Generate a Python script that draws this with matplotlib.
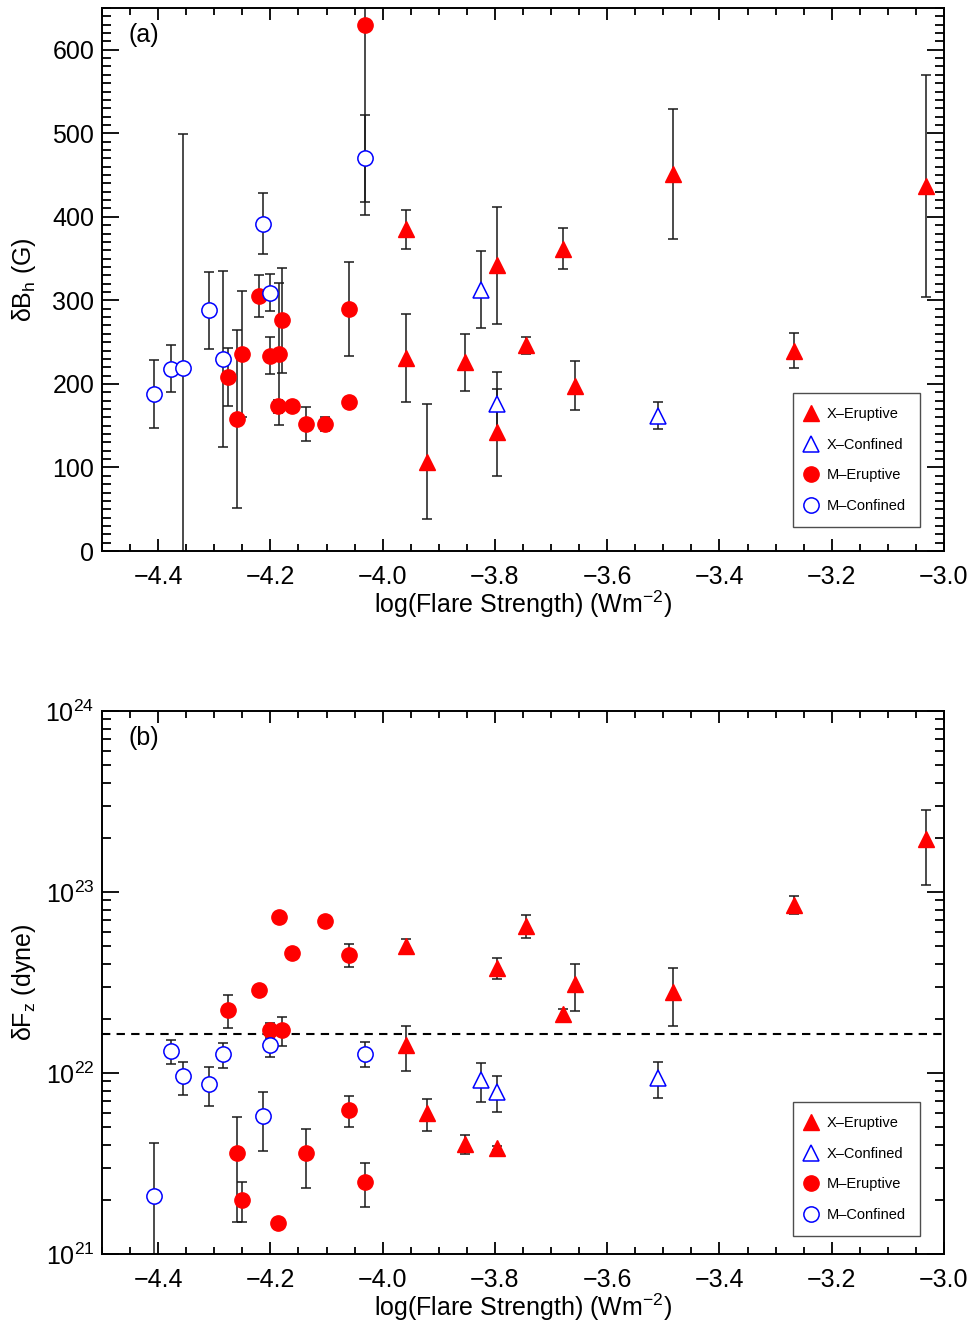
import matplotlib
matplotlib.use('Agg')
import matplotlib.pyplot as plt
from matplotlib.ticker import MultipleLocator, LogLocator, NullFormatter, FuncFormatter
from matplotlib.lines import Line2D
import numpy as np

plt.rcParams['font.family'] = ['Liberation Sans', 'DejaVu Sans']
plt.rcParams['mathtext.fontset'] = 'custom'
plt.rcParams['mathtext.rm'] = 'Liberation Sans'
plt.rcParams['mathtext.it'] = 'Liberation Sans:italic'
plt.rcParams['mathtext.bf'] = 'Liberation Sans:bold'

# ---------------- data ----------------
# X-class eruptive flares
xe_x = [-3.959, -3.959, -3.921, -3.854, -3.796, -3.796, -3.745, -3.678, -3.658, -3.482, -3.268, -3.032]
xe_bh = [385, 231, 107, 226, 342, 142, 246, 362, 198, 451, 240, 437]
xe_bh_err = [23, 53, 69, 34, 70, 52, 10, 25, 29, 78, 21, 133]
xe_fz = [5.06e22, 1.42e22, 5.99e21, 4.05e21, 3.82e22, 3.87e21, 6.52e22, 2.12e22, 3.1e22, 2.8e22, 8.5e22, 1.97e23]
xe_fz_err = [0.45e22, 0.4e22, 1.2e21, 0.5e21, 0.52e22, 0.1e21, 0.94e22, 0.14e22, 0.89e22, 0.98e22, 0.95e22, 0.87e23]

# X-class confined flares
xc_x = [-3.824, -3.796, -3.509]
xc_bh = [313, 176, 162]
xc_bh_err = [46, 38, 16]
xc_fz = [9.14e21, 7.87e21, 9.35e21]
xc_fz_err = [2.2e21, 1.8e21, 2.1e21]

# M-class eruptive flares
me_x = [-4.276, -4.260, -4.251, -4.221, -4.201, -4.186, -4.185, -4.180, -4.161, -4.136, -4.102, -4.060, -4.060, -4.031]
me_bh = [208, 158, 236, 305, 234, 173, 236, 276, 173, 152, 152, 290, 178, 630]
me_bh_err = [35, 106, 75, 25, 22, 8, 85, 63, 6, 20, 8, 56, 6, 228]
me_fz = [2.24e22, 3.61e21, 2.0e21, 2.86e22, 1.73e22, 1.49e21, 7.3e22, 1.73e22, 4.58e22, 3.61e21, 6.88e22, 4.5e22, 6.22e21, 2.51e21]
me_fz_err = [0.46e22, 2.1e21, 0.5e21, 0.15e22, 0.16e22, 0.05e21, 0.3e22, 0.32e22, 0.2e22, 1.3e21, 0.25e22, 0.67e22, 1.2e21, 0.69e21]

# M-class confined flares
mc_x = [-4.408, -4.377, -4.356, -4.310, -4.284, -4.214, -4.200, -4.031]
mc_bh = [188, 218, 219, 288, 230, 392, 309, 470]
mc_bh_err = [41, 28, 280, 46, 105, 37, 22, 52]
mc_fz = [2.09e21, 1.315e22, 9.57e21, 8.67e21, 1.27e22, 5.8e21, 1.43e22, 1.28e22]
mc_fz_err = [2.0e21, 0.2e22, 2.0e21, 2.1e21, 0.2e22, 2.1e21, 0.21e22, 0.2e22]

fz_threshold = 1.65e22

labels = ['X\u2013Eruptive', 'X\u2013Confined', 'M\u2013Eruptive', 'M\u2013Confined']

# ---------------- style ----------------
MS = 11
styles = {
    'xe': dict(marker='^', mfc='red', mec='red', mew=1.0),
    'xc': dict(marker='^', mfc='white', mec='blue', mew=1.1),
    'me': dict(marker='o', mfc='red', mec='red', mew=1.0),
    'mc': dict(marker='o', mfc='white', mec='blue', mew=1.1),
}

fig = plt.figure(figsize=(9.74, 13.24), dpi=100)
ax1 = fig.add_axes([102/974, 1-551/1324, 842/974, 543/1324])
ax2 = fig.add_axes([102/974, 1-1254/1324, 842/974, 543/1324])


def draw(ax, sets):
    for key, x, y, e in sets:
        ax.errorbar(x, y, yerr=e, fmt='none', ecolor='#1a1a1a', elinewidth=1.1,
                    capsize=3.8, capthick=1.1, zorder=2)
    for key, x, y, e in sets:
        ax.plot(x, y, linestyle='none', ms=MS, zorder=3, **styles[key])


def style_axes(ax, leg_y):
    for s in ax.spines.values():
        s.set_linewidth(1.4)
    ax.set_xlim(-4.5, -3.0)
    ax.xaxis.set_major_locator(MultipleLocator(0.2))
    ax.xaxis.set_minor_locator(MultipleLocator(0.05))
    ax.xaxis.set_major_formatter(FuncFormatter(lambda v, p: f'{v:.1f}'.replace('-', '\u2212')))
    ax.tick_params(axis='both', which='both', direction='in', top=True, right=True,
                   width=1.3, labelsize=18)
    ax.tick_params(axis='x', which='major', length=8.6, pad=10)
    ax.tick_params(axis='x', which='minor', length=4.7)
    ax.tick_params(axis='y', which='major', length=12.2, pad=5.5)
    ax.tick_params(axis='y', which='minor', length=6.5)
    ax.set_xlabel('log(Flare Strength) (Wm$^{\\mathdefault{-2}}$)', fontsize=18)
    ax.xaxis.set_label_coords(0.5, -0.069)
    ax.yaxis.set_label_coords(-0.076, 0.5)
    handles = [Line2D([], [], linestyle='none', ms=MS, **styles[k]) for k in ['xe', 'xc', 'me', 'mc']]
    leg = ax.legend(handles, labels, loc='lower right', bbox_to_anchor=(0.9715, leg_y),
                    fontsize=10.5, frameon=True, fancybox=False, edgecolor='#222222',
                    handlelength=0.6, handletextpad=0.8, borderpad=0.95, labelspacing=1.15,
                    borderaxespad=0.0)
    leg.get_frame().set_linewidth(1.0)


# panel (a)
draw(ax1, [('xe', xe_x, xe_bh, xe_bh_err), ('xc', xc_x, xc_bh, xc_bh_err),
           ('me', me_x, me_bh, me_bh_err), ('mc', mc_x, mc_bh, mc_bh_err)])
style_axes(ax1, 0.044)
ax1.set_ylim(0, 650)
ax1.yaxis.set_major_locator(MultipleLocator(100))
ax1.yaxis.set_minor_locator(MultipleLocator(10))
ax1.yaxis.set_major_formatter(FuncFormatter(lambda v, p: f'{v:.0f}'))
ax1.set_ylabel('\u03b4B$_{\\mathdefault{h}}$ (G)', fontsize=18)
ax1.text(0.031, 0.95, '(a)', transform=ax1.transAxes, fontsize=18, ha='left', va='center')

# panel (b)
ax2.set_yscale('log')
draw(ax2, [('xe', xe_x, xe_fz, xe_fz_err), ('xc', xc_x, xc_fz, xc_fz_err),
           ('me', me_x, me_fz, me_fz_err), ('mc', mc_x, mc_fz, mc_fz_err)])
ax2.axhline(fz_threshold, color='black', linestyle=(0, (4, 3)), linewidth=1.5, zorder=1)
style_axes(ax2, 0.033)
ax2.set_ylim(1e21, 1e24)
ax2.yaxis.set_major_locator(LogLocator(base=10, numticks=10))
ax2.yaxis.set_minor_locator(LogLocator(base=10, subs=np.arange(2, 10), numticks=20))
ax2.yaxis.set_minor_formatter(NullFormatter())
ax2.set_ylabel('\u03b4F$_{\\mathdefault{z}}$ (dyne)', fontsize=18)
ax2.text(0.031, 0.95, '(b)', transform=ax2.transAxes, fontsize=18, ha='left', va='center')

fig.savefig('out.png', dpi=100)
